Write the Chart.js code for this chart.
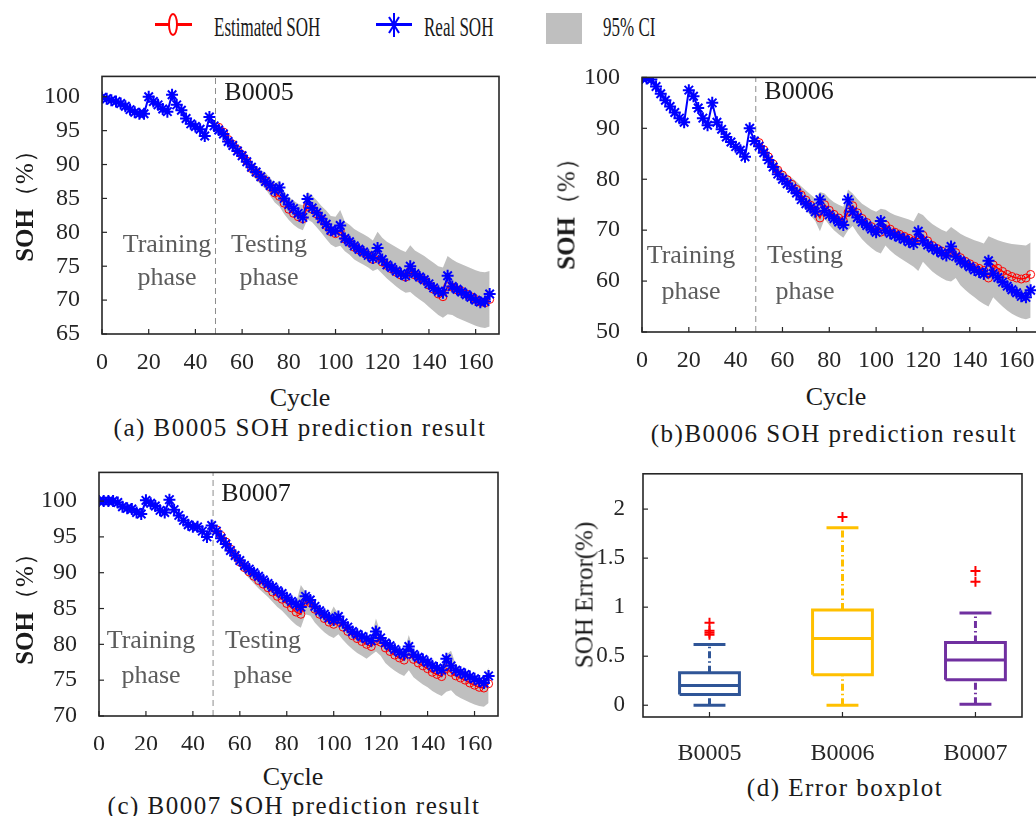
<!DOCTYPE html>
<html>
<head>
<meta charset="utf-8">
<script src="https://cdn.jsdelivr.net/npm/chart.js@4.4.1/dist/chart.umd.min.js"></script>
<style>
html, body { margin: 0; padding: 0; background: #fff; overflow: hidden; }
#fig { position: relative; width: 1036px; height: 816px; overflow: hidden;
  font-family: "Liberation Serif", "Times New Roman", serif; color: #1a1a1a; }
#fig canvas { position: absolute; }
.t { position: absolute; white-space: nowrap; line-height: 1; transform: translate(-50%, -50%); }
.lab { font-size: 26px; }
.phase { font-size: 26px; color: #5c5c5c; }
.cap { font-size: 25px; letter-spacing: 1.5px; }
.ytitle { font-size: 25px; transform: translate(-50%, -50%) rotate(-90deg); }
.leg { position: absolute; white-space: nowrap; line-height: 1; font-size: 17px;
  transform: translateY(-50%) scaleY(1.55); transform-origin: left center; }
</style>
</head>
<body>
<div id="fig">
  <!-- legend -->
  <div style="position:absolute;left:155px;top:23px;width:37px;height:3px;background:#ff0000"></div>
  <div style="position:absolute;left:168px;top:13px;width:6px;height:19px;border:2px solid #ff0000;border-radius:50%;background:#fff"></div>
  <div class="leg" style="left:214px;top:27px">Estimated SOH</div>
  <div style="position:absolute;left:376px;top:23px;width:36px;height:3px;background:#0000ff"></div>
  <svg style="position:absolute;left:388px;top:12px" width="12" height="26">
    <g stroke="#0000ff" stroke-width="2">
      <line x1="6" y1="1" x2="6" y2="25"/><line x1="1" y1="13" x2="11" y2="13"/>
      <line x1="1" y1="5" x2="11" y2="21"/><line x1="11" y1="5" x2="1" y2="21"/>
    </g>
  </svg>
  <div class="leg" style="left:424px;top:27px">Real SOH</div>
  <div style="position:absolute;left:546px;top:13px;width:36px;height:31px;background:#bfbfbf"></div>
  <div class="leg" style="left:603px;top:27px">95% CI</div>

  <canvas id="cA"></canvas>
  <canvas id="cB"></canvas>
  <canvas id="cC"></canvas>
  <canvas id="cD"></canvas>

  <!-- panel a texts -->
  <div class="t lab" style="left:259px;top:92px">B0005</div>
  <div class="t phase" style="left:167px;top:244px">Training</div>
  <div class="t phase" style="left:167px;top:277px">phase</div>
  <div class="t phase" style="left:269px;top:244px">Testing</div>
  <div class="t phase" style="left:269px;top:277px">phase</div>
  <div class="t ytitle" style="left:24px;top:200px"><b>SOH</b>（%）</div>
  <div class="t lab" style="left:300px;top:398px">Cycle</div>
  <div class="t cap" style="left:300px;top:427px">(a) B0005 SOH prediction result</div>

  <!-- panel b texts -->
  <div class="t lab" style="left:799px;top:91px">B0006</div>
  <div class="t phase" style="left:691px;top:255px">Training</div>
  <div class="t phase" style="left:691px;top:291px">phase</div>
  <div class="t phase" style="left:805px;top:255px">Testing</div>
  <div class="t phase" style="left:805px;top:291px">phase</div>
  <div class="t ytitle" style="left:566px;top:208px"><b>SOH</b>（%）</div>
  <div class="t lab" style="left:836px;top:397px">Cycle</div>
  <div class="t cap" style="left:834px;top:433px">(b)B0006 SOH prediction result</div>

  <!-- panel c texts -->
  <div class="t lab" style="left:256px;top:493px">B0007</div>
  <div class="t phase" style="left:151px;top:640px">Training</div>
  <div class="t phase" style="left:151px;top:675px">phase</div>
  <div class="t phase" style="left:263px;top:640px">Testing</div>
  <div class="t phase" style="left:263px;top:675px">phase</div>
  <div class="t ytitle" style="left:24px;top:603px"><b>SOH</b>（%）</div>
  <div class="t lab" style="left:293px;top:777px">Cycle</div>
  <div class="t cap" style="left:294px;top:805px">(c) B0007 SOH prediction result</div>

  <!-- panel d texts -->
  <div class="t" style="font-size:25px;left:584px;top:595px;transform:translate(-50%,-50%) rotate(-90deg)">SOH Error(%)</div>
  <div class="t cap" style="left:845px;top:787px">(d) Error boxplot</div>
</div>

<script>
// cycle index (every 2nd cycle)
const cycles = [0,2,4,6,8,10,12,14,16,18,20,22,24,26,28,30,32,34,36,38,
  40,42,44,46,48,50,52,54,56,58,60,62,64,66,68,70,72,74,76,78,
  80,82,84,86,88,90,92,94,96,98,100,102,104,106,108,110,112,114,116,118,
  120,122,124,126,128,130,132,134,136,138,140,142,144,146,148,150,152,154,156,158,
  160,162,164,166];
const testFrom = 50;
const splitCycle = 48.6;

// tick labels
const cycleTicks = [0, 20, 40, 60, 80, 100, 120, 140, 160];
const b5Ticks = [65, 70, 75, 80, 85, 90, 95, 100];
const b6Ticks = [50, 60, 70, 80, 90, 100];
const b7Ticks = [70, 75, 80, 85, 90, 95, 100];
const errTicks = [0, 0.5, 1, 1.5, 2];

// B0005
const b5Real = [99.9,99.7,99.5,99.3,99.0,98.6,98.1,97.7,97.5,97.5,
  100.0,99.3,98.8,98.2,97.8,100.3,98.8,98.0,96.8,96.0,
  95.6,95.2,94.2,97.0,95.7,95.1,94.5,93.4,92.8,92.0,
  91.3,90.4,89.6,88.9,88.2,87.5,86.9,86.2,86.6,85.0,
  84.1,83.5,82.8,82.2,84.9,83.6,82.9,82.0,81.2,80.3,
  80.2,81.0,79.1,78.6,78.0,77.5,77.1,76.6,76.2,77.7,
  76.0,75.2,74.8,74.3,73.9,73.6,75.0,73.9,73.4,73.0,
  72.4,71.8,71.3,71.1,73.6,72.0,71.6,71.2,70.8,70.4,
  70.0,69.7,69.8,70.9];
const b5Est = [95.5,94.8,93.7,93.0,92.2,91.4,90.5,89.4,88.8,88.1,
  87.6,86.7,85.8,85.3,84.3,83.4,82.8,82.3,82.0,83.8,
  83.4,82.7,81.9,81.0,80.1,79.8,80.2,79.0,78.5,77.8,
  77.4,77.0,76.6,76.0,76.4,75.6,75.1,74.6,74.1,73.7,
  73.4,74.3,73.7,73.3,72.9,72.2,71.6,70.9,70.5,72.0,
  71.9,71.5,71.3,70.9,70.5,70.1,69.7,69.6,70.1];
const b5Upper = [95.9,95.3,94.2,93.6,92.9,92.2,91.4,90.4,89.8,89.2,
  88.8,88.0,87.2,87.6,86.0,85.2,84.7,84.2,84.0,86.0,
  85.4,84.7,83.9,83.2,82.4,82.3,83.3,81.6,81.1,80.5,
  80.1,79.7,79.3,78.8,80.1,79.2,78.6,78.2,77.8,77.4,
  77.1,78.1,77.3,76.9,76.5,76.0,75.5,75.0,74.8,76.5,
  76.0,75.6,75.3,75.0,74.7,74.4,74.2,74.1,74.3];
const b5Lower = [95.1,94.3,93.2,92.4,91.5,90.6,89.6,88.4,87.8,87.0,
  86.4,85.4,84.4,83.8,82.7,81.8,81.1,80.6,80.3,81.9,
  81.5,80.7,79.9,79.0,78.2,77.8,78.0,77.2,76.7,76.0,
  75.6,75.2,74.8,74.3,74.6,73.9,73.2,72.6,72.0,71.5,
  71.1,71.2,70.6,70.1,69.6,69.0,68.4,67.8,67.4,67.9,
  67.8,67.4,67.1,66.8,66.5,66.2,66.0,65.9,66.1];

// B0006
const b6Real = [99.9,99.8,99.6,98.2,96.8,95.5,94.3,93.1,92.0,91.2,
  97.5,96.3,94.0,92.0,90.6,95.0,91.2,89.8,88.3,87.3,
  86.4,85.7,84.4,90.0,87.5,86.5,85.2,83.8,82.4,81.0,
  80.0,79.1,78.2,77.3,76.0,75.2,74.4,73.6,76.0,73.8,
  73.0,72.3,71.6,71.0,76.0,73.6,72.5,71.6,70.9,70.2,
  69.6,71.8,70.0,69.4,69.0,68.6,68.2,67.7,67.3,69.8,
  67.9,67.1,66.5,66.0,65.5,65.0,66.8,64.8,64.0,63.4,
  62.8,62.2,61.8,61.4,64.0,61.5,60.7,59.8,59.0,58.3,
  57.7,57.0,56.8,58.2];
const b6Est = [87.2,85.8,84.4,83.0,81.8,80.8,79.9,79.0,78.0,76.9,
  75.9,74.9,73.9,72.4,75.0,73.9,73.1,72.4,71.9,73.5,
  74.8,73.4,72.3,71.5,70.7,70.0,69.6,71.0,70.2,69.6,
  69.2,68.8,68.4,67.9,68.4,69.0,67.9,67.0,66.4,65.9,
  65.4,65.8,65.6,64.6,63.9,63.4,62.9,62.5,62.1,60.6,
  63.2,62.5,61.9,61.3,60.9,60.6,60.4,60.6,61.3];
const b6Upper = [87.7,86.4,85.1,83.8,82.7,81.8,81.0,80.3,79.5,78.6,
  77.8,77.0,76.2,77.5,77.2,76.2,75.5,75.0,74.6,78.0,
  77.2,76.1,75.2,74.6,74.0,73.6,74.2,74.0,73.4,73.0,
  72.7,72.4,72.1,71.7,73.4,73.0,72.0,71.2,70.6,70.1,
  69.7,70.6,70.0,69.3,68.8,68.4,68.0,67.7,67.4,68.8,
  68.4,68.0,67.7,67.5,67.3,67.2,67.1,67.0,67.6];
const b6Lower = [86.5,85.0,83.5,82.0,80.7,79.6,78.6,77.5,76.4,75.2,
  74.0,72.9,71.8,69.8,72.2,71.0,70.0,69.2,68.5,70.0,
  70.8,69.4,68.2,67.3,66.5,65.8,65.4,67.0,66.0,65.2,
  64.6,64.0,63.4,62.8,62.0,63.8,62.8,61.9,61.2,60.6,
  60.1,59.9,60.6,59.2,58.3,57.5,56.8,56.1,55.5,55.0,
  56.8,55.9,55.0,54.2,53.6,53.1,52.7,52.5,52.8];

// B0007
const b7Real = [100.0,100.0,100.0,100.0,99.8,99.2,99.0,98.9,98.4,98.2,
  100.1,99.7,99.3,98.7,98.4,100.2,98.8,98.0,97.3,96.7,
  96.4,96.4,95.8,95.0,96.6,95.8,94.8,94.0,93.1,92.4,
  91.7,91.0,90.5,90.0,89.5,89.0,88.5,88.0,87.5,87.1,
  86.5,86.0,85.6,85.2,86.7,86.2,85.3,84.7,84.2,83.7,
  83.4,83.9,83.0,82.4,81.8,81.4,81.1,80.8,80.5,81.8,
  80.9,80.2,79.8,79.3,78.9,78.6,79.7,78.6,78.2,77.9,
  77.5,77.0,76.7,76.4,78.0,77.0,76.4,76.1,75.8,75.5,
  75.2,74.9,74.6,75.6];
const b7Est = [96.0,95.2,94.3,93.3,92.4,91.5,90.7,90.1,89.5,88.9,
  88.4,87.9,87.3,86.7,86.3,85.7,85.1,84.5,84.2,86.0,
  85.8,84.9,84.2,83.6,83.1,82.8,83.2,82.4,81.8,81.2,
  80.8,80.4,80.0,79.7,80.5,80.3,79.5,79.0,78.5,78.1,
  77.8,78.7,77.9,77.4,77.0,76.6,76.1,75.8,75.5,76.6,
  76.1,75.6,75.3,75.0,74.6,74.3,74.0,73.9,74.5];
const b7Upper = [96.6,95.6,94.7,93.7,92.9,92.1,91.3,90.8,90.3,89.7,
  89.2,88.7,88.2,87.7,87.3,86.7,86.2,85.8,88.3,87.3,
  86.5,85.6,85.0,84.5,84.0,85.3,84.2,83.4,82.7,82.2,
  81.8,81.5,81.2,80.9,83.6,81.6,80.7,80.2,79.7,79.3,
  79.0,81.3,79.2,78.6,78.3,77.9,77.5,77.2,76.9,78.6,
  79.1,77.2,76.6,76.3,76.0,75.7,75.4,75.3,76.8];
const b7Lower = [95.5,94.7,93.8,92.7,91.7,90.8,89.9,89.2,88.5,87.8,
  87.2,86.6,85.9,85.2,84.7,84.0,83.3,82.7,82.3,84.2,
  84.0,83.0,82.3,81.7,81.2,80.9,81.4,80.6,79.9,79.3,
  78.8,78.4,78.0,78.5,79.0,78.4,77.4,76.8,76.3,75.9,
  75.6,76.4,75.4,74.9,74.4,74.0,73.5,73.1,72.8,73.4,
  73.6,72.9,72.5,72.2,71.9,71.6,71.4,71.3,71.8];

// error boxplot
const boxNames = ['B0005', 'B0006', 'B0007'];
const boxLow = [0, 0, 0.01];
const boxQ1 = [0.11, 0.31, 0.26];
const boxMed = [0.20, 0.68, 0.46];
const boxQ3 = [0.33, 0.97, 0.64];
const boxHigh = [0.62, 1.81, 0.94];
const boxOutliers = [[0.72, 0.74, 0.76, 0.84], [1.92], [1.26, 1.37]];
const boxColors = ['#2f5597', '#ffc000', '#7030a0'];

const FONT = '"Liberation Serif", "Times New Roman", serif';
const AX = '#262626';

// frame plus inward tick marks (MATLAB look)
const frameTicks = {
  id: 'frameTicks',
  afterDraw(chart) {
    const { ctx, chartArea: a, scales } = chart;
    ctx.save();
    ctx.strokeStyle = AX;
    ctx.lineWidth = 1.6;
    ctx.strokeRect(a.left, a.top, a.right - a.left, a.bottom - a.top);
    ctx.lineWidth = 1.2;
    scales.x.ticks.forEach(t => {
      const px = scales.x.getPixelForValue(t.value);
      ctx.beginPath(); ctx.moveTo(px, a.bottom); ctx.lineTo(px, a.bottom - 5); ctx.stroke();
    });
    scales.y.ticks.forEach(t => {
      const py = scales.y.getPixelForValue(t.value);
      ctx.beginPath(); ctx.moveTo(a.left, py); ctx.lineTo(a.left + 5, py); ctx.stroke();
    });
    ctx.restore();
  }
};

function place(id, box) {
  const cv = document.getElementById(id);
  cv.width = box.w; cv.height = box.h;
  cv.style.left = box.x + 'px'; cv.style.top = box.y + 'px';
  cv.style.width = box.w + 'px'; cv.style.height = box.h + 'px';
  return cv;
}

function baseOptions(box, area) {
  return {
    responsive: false,
    animation: false,
    devicePixelRatio: 1,
    layout: { padding: { top: area.top - box.y, right: box.x + box.w - area.right, left: 0, bottom: 0 } },
    plugins: { legend: { display: false }, tooltip: { enabled: false } },
    elements: { line: { tension: 0 } }
  };
}

function sohPanel(id, box, area, yMin, yMax, yTicks, real, est, lower, upper) {
  const cv = place(id, box);
  const testCycles = cycles.slice(cycles.indexOf(testFrom));
  const pts = (xs, ys) => ys.map((v, i) => ({ x: xs[i], y: v }));
  const opts = baseOptions(box, area);
  opts.scales = {
    x: {
      type: 'linear', min: 0, max: 170,
      grid: { display: false }, border: { display: false },
      ticks: { padding: 6, color: AX, font: { family: FONT, size: 24 }, maxRotation: 0, autoSkip: false },
      afterBuildTicks: s => { s.ticks = cycleTicks.map(v => ({ value: v })); },
      afterFit: s => { s.height = box.y + box.h - area.bottom; }
    },
    y: {
      type: 'linear', min: yMin, max: yMax,
      grid: { display: false }, border: { display: false },
      ticks: { padding: 14, color: AX, font: { family: FONT, size: 24 }, callback: v => String(v) },
      afterBuildTicks: s => { s.ticks = yTicks.map(v => ({ value: v })); },
      afterFit: s => { s.width = area.left - box.x; }
    }
  };
  new Chart(cv, {
    type: 'line',
    data: {
      datasets: [
        { data: pts(testCycles, lower), borderWidth: 0, borderColor: 'rgba(0,0,0,0)', pointRadius: 0, fill: false, order: 5 },
        { data: pts(testCycles, upper), borderWidth: 0, borderColor: 'rgba(0,0,0,0)', pointRadius: 0, fill: '-1', backgroundColor: '#bfbfbf', order: 4 },
        { data: [{ x: splitCycle, y: yMin }, { x: splitCycle, y: yMax }], borderColor: '#8c8c8c', borderWidth: 1, borderDash: [6, 4], pointRadius: 0, order: 3 },
        { data: pts(testCycles, est), borderColor: '#ff0000', borderWidth: 1.5, pointStyle: 'circle', pointRadius: 4,
          pointBorderWidth: 1, pointBorderColor: '#ff0000', pointBackgroundColor: 'rgba(255,255,255,0)', order: 2 },
        { data: pts(cycles, real), borderColor: '#0000ff', borderWidth: 2, pointStyle: 'star', pointRadius: 6,
          pointBorderWidth: 2, pointBorderColor: '#0000ff', order: 1 }
      ]
    },
    options: opts,
    plugins: [frameTicks]
  });
}

function errorPanel() {
  const box = { x: 596, y: 450, w: 440, h: 310 };
  const area = { left: 643, top: 470, right: 1022, bottom: 717 };
  const cv = place('cD', box);
  const boxHalf = 0.225, capHalf = 0.12;
  const whiskerDash = [7, 3, 1.5, 3];
  const ds = [];
  boxNames.forEach((n, i) => {
    const c = i + 1, col = boxColors[i];
    const seg = (p, dash) => ({ data: p, borderColor: col, borderWidth: 3, borderDash: dash || [],
      borderJoinStyle: 'miter', pointRadius: 0, fill: false });
    ds.push(seg([{ x: c - boxHalf, y: boxQ1[i] }, { x: c + boxHalf, y: boxQ1[i] }, { x: c + boxHalf, y: boxQ3[i] },
      { x: c - boxHalf, y: boxQ3[i] }, { x: c - boxHalf, y: boxQ1[i] }]));
    ds.push(seg([{ x: c - boxHalf, y: boxMed[i] }, { x: c + boxHalf, y: boxMed[i] }]));
    ds.push(seg([{ x: c, y: boxQ3[i] }, { x: c, y: boxHigh[i] }], whiskerDash));
    ds.push(seg([{ x: c, y: boxLow[i] }, { x: c, y: boxQ1[i] }], whiskerDash));
    ds.push(seg([{ x: c - capHalf, y: boxHigh[i] }, { x: c + capHalf, y: boxHigh[i] }]));
    ds.push(seg([{ x: c - capHalf, y: boxLow[i] }, { x: c + capHalf, y: boxLow[i] }]));
    ds.push({ data: boxOutliers[i].map(v => ({ x: c, y: v })), showLine: false, pointStyle: 'cross',
      pointRadius: 5, pointBorderWidth: 2, pointBorderColor: '#ff0000', borderColor: '#ff0000' });
  });
  const opts = baseOptions(box, area);
  opts.scales = {
    x: {
      type: 'linear', min: 0.5, max: 3.35,
      grid: { display: false }, border: { display: false },
      ticks: { padding: 14, color: AX, font: { family: FONT, size: 24 }, maxRotation: 0, autoSkip: false,
        callback: v => boxNames[Math.round(v) - 1] },
      afterBuildTicks: s => { s.ticks = boxNames.map((n, i) => ({ value: i + 1 })); },
      afterFit: s => { s.height = box.y + box.h - area.bottom; }
    },
    y: {
      type: 'linear', min: -0.12, max: 2.36,
      grid: { display: false }, border: { display: false },
      ticks: { padding: 10, color: AX, font: { family: FONT, size: 23 }, callback: v => String(v) },
      afterBuildTicks: s => { s.ticks = errTicks.map(v => ({ value: v })); },
      afterFit: s => { s.width = area.left - box.x; }
    }
  };
  new Chart(cv, { type: 'line', data: { datasets: ds }, options: opts, plugins: [frameTicks] });
}

function drawAll() {
  sohPanel('cA', { x: 0, y: 48, w: 520, h: 322 }, { left: 102, top: 68, right: 499, bottom: 334 },
    65, 103, b5Ticks, b5Real, b5Est, b5Lower, b5Upper);
  sohPanel('cB', { x: 560, y: 49, w: 500, h: 321 }, { left: 642, top: 69, right: 1040, bottom: 332 },
    50, 100, b6Ticks, b6Real, b6Est, b6Lower, b6Upper);
  sohPanel('cC', { x: 0, y: 444, w: 520, h: 306 }, { left: 99, top: 464, right: 498, bottom: 716 },
    70, 104, b7Ticks, b7Real, b7Est, b7Lower, b7Upper);
  errorPanel();
}

if (document.fonts && document.fonts.load) {
  document.fonts.load('24px "Liberation Serif"').then(drawAll, drawAll);
} else {
  drawAll();
}
</script>
</body>
</html>
